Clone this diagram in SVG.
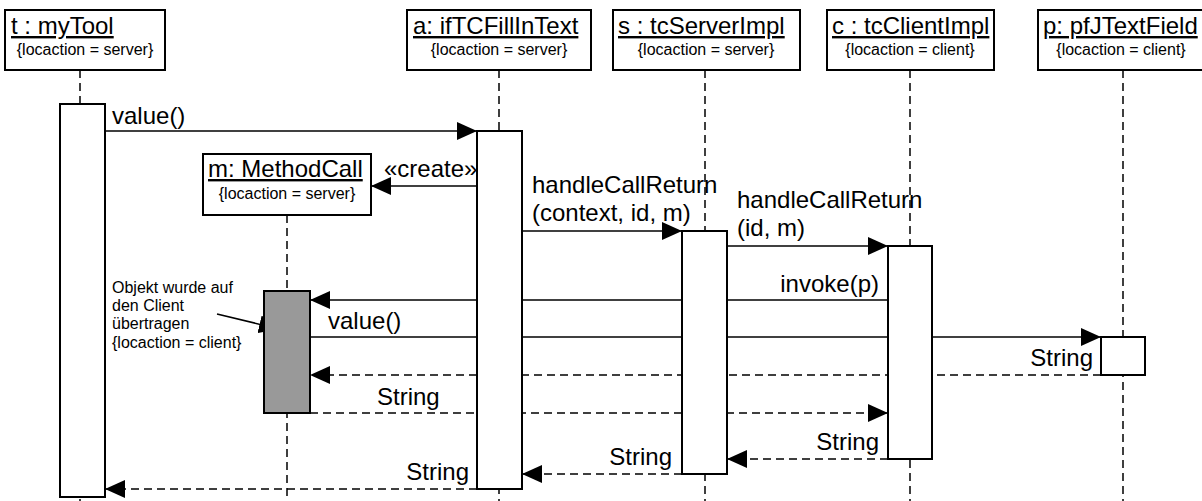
<svg xmlns="http://www.w3.org/2000/svg" width="1202" height="501" viewBox="0 0 1202 501">
  <style>
    .box { fill: #fff; stroke: #000; stroke-width: 2; }
    .act { fill: #fff; stroke: #000; stroke-width: 2; }
    .act-remote { fill: #999; stroke: #000; stroke-width: 2; }
    .life { stroke: #000; stroke-width: 1.5; stroke-dasharray: 8 5; fill: none; }
    .msg { stroke: #000; stroke-width: 1.6; fill: none; }
    .ret { stroke: #000; stroke-width: 1.6; fill: none; stroke-dasharray: 8 5; }
    .title { font-family: "Liberation Sans", Arial, sans-serif; font-size: 24px; text-decoration: underline; fill: #000; }
    .tag { font-family: "Liberation Sans", Arial, sans-serif; font-size: 16px; fill: #000; text-anchor: middle; }
    .lbl { font-family: "Liberation Sans", Arial, sans-serif; font-size: 24px; fill: #000; }
    .note { font-family: "Liberation Sans", Arial, sans-serif; font-size: 16px; fill: #000; }
    .end { text-anchor: end; }
  </style>
  <defs>
    <marker id="head" viewBox="0 0 20 18" refX="20" refY="9" markerWidth="20" markerHeight="18" markerUnits="userSpaceOnUse" orient="auto">
      <path d="M0,0 L20,9 L0,18 Z" fill="#000"/>
    </marker>
  </defs>

  <rect width="1202" height="501" fill="#fff"/>

  <!-- lifelines -->
  <g id="lifelines">
    <line class="life" x1="80" y1="70" x2="80" y2="501"/>
    <line class="life" x1="287" y1="215" x2="287" y2="501"/>
    <line class="life" x1="499" y1="70" x2="499" y2="501"/>
    <line class="life" x1="705" y1="70" x2="705" y2="501"/>
    <line class="life" x1="910" y1="70" x2="910" y2="501"/>
    <line class="life" x1="1123" y1="70" x2="1123" y2="501"/>
  </g>

  <!-- messages -->
  <g id="connectors">
    <line class="msg" x1="105" y1="131" x2="477" y2="131" marker-end="url(#head)"/>
    <text class="lbl" x="112" y="124">value()</text>

    <line class="msg" x1="477" y1="186" x2="371" y2="186" marker-end="url(#head)"/>
    <text class="lbl" x="384" y="177">«create»</text>

    <line class="msg" x1="522" y1="231" x2="682" y2="231" marker-end="url(#head)"/>
    <text class="lbl" x="532" y="193">handleCallReturn</text>
    <text class="lbl" x="532" y="221">(context, id, m)</text>

    <line class="msg" x1="727" y1="246" x2="888" y2="246" marker-end="url(#head)"/>
    <text class="lbl" x="737" y="208">handleCallReturn</text>
    <text class="lbl" x="737" y="236">(id, m)</text>

    <line class="msg" x1="888" y1="300" x2="310" y2="300" marker-end="url(#head)"/>
    <text class="lbl end" x="879" y="292">invoke(p)</text>

    <line class="msg" x1="310" y1="337" x2="1101" y2="337" marker-end="url(#head)"/>
    <text class="lbl" x="328" y="329">value()</text>

    <line class="ret" x1="1101" y1="375" x2="310" y2="375" marker-end="url(#head)"/>
    <text class="lbl end" x="1093" y="366">String</text>

    <line class="ret" x1="310" y1="413" x2="888" y2="413" marker-end="url(#head)"/>
    <text class="lbl" x="377" y="405">String</text>

    <line class="ret" x1="888" y1="459" x2="727" y2="459" marker-end="url(#head)"/>
    <text class="lbl end" x="879" y="450">String</text>

    <line class="ret" x1="682" y1="474" x2="522" y2="474" marker-end="url(#head)"/>
    <text class="lbl end" x="672" y="465">String</text>

    <line class="ret" x1="477" y1="489" x2="105" y2="489" marker-end="url(#head)"/>
    <text class="lbl end" x="469" y="480">String</text>

    <!-- annotation pointer to the transferred activation -->
    <line class="msg" x1="217" y1="314" x2="279" y2="329" marker-end="url(#head)"/>
  </g>

  <!-- annotation text -->
  <g id="note-transfer">
    <text class="note" x="112" y="293">Objekt wurde auf</text>
    <text class="note" x="112" y="311">den Client</text>
    <text class="note" x="112" y="329">übertragen</text>
    <text class="note" x="112" y="348">{locaction = client}</text>
  </g>

  <!-- objects -->
  <g id="node-t">
    <rect class="box" x="5" y="10" width="160" height="60"/>
    <text class="title" x="11" y="34">t : myTool</text>
    <text class="tag" x="85" y="55">{locaction = server}</text>
    <rect class="act" x="60" y="104" width="45" height="393"/>
  </g>

  <g id="node-m">
    <rect class="box" x="203" y="154" width="168" height="61"/>
    <text class="title" x="208" y="177">m: MethodCall</text>
    <text class="tag" x="287" y="199">{locaction = server}</text>
    <rect class="act-remote" x="264" y="291" width="46" height="122"/>
  </g>

  <g id="node-a">
    <rect class="box" x="407" y="10" width="184" height="60"/>
    <text class="title" x="413" y="34">a: ifTCFillInText</text>
    <text class="tag" x="499" y="55">{locaction = server}</text>
    <rect class="act" x="477" y="131" width="45" height="358"/>
  </g>

  <g id="node-s">
    <rect class="box" x="613" y="10" width="187" height="60"/>
    <text class="title" x="618" y="34">s : tcServerImpl</text>
    <text class="tag" x="706" y="55">{locaction = server}</text>
    <rect class="act" x="682" y="231" width="45" height="243"/>
  </g>

  <g id="node-c">
    <rect class="box" x="827" y="10" width="167" height="60"/>
    <text class="title" x="832" y="34">c : tcClientImpl</text>
    <text class="tag" x="910" y="55">{locaction = client}</text>
    <rect class="act" x="888" y="246" width="44" height="213"/>
  </g>

  <g id="node-p">
    <rect class="box" x="1038" y="10" width="168" height="60"/>
    <text class="title" x="1043" y="34">p: pfJTextField</text>
    <text class="tag" x="1121" y="55">{locaction = client}</text>
    <rect class="act" x="1101" y="337" width="44" height="38"/>
  </g>
</svg>
